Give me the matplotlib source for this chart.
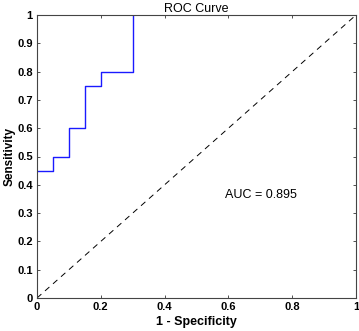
#!/usr/bin/env python3
"""ROC curve with step-shaped sensitivity vs 1 - specificity."""

import matplotlib
matplotlib.use("Agg")
import matplotlib.pyplot as plt

# ROC points (1 - specificity, sensitivity)
fpr = [0.0, 0.05, 0.05, 0.10, 0.10, 0.15, 0.15, 0.20, 0.20, 0.30, 0.30]
tpr = [0.45, 0.45, 0.50, 0.50, 0.60, 0.60, 0.75, 0.75, 0.80, 0.80, 1.00]
auc_value = 0.895

x_ticks = [0, 0.2, 0.4, 0.6, 0.8, 1]
x_tick_labels = ["0", "0.2", "0.4", "0.6", "0.8", "1"]
y_ticks = [0, 0.1, 0.2, 0.3, 0.4, 0.5, 0.6, 0.7, 0.8, 0.9, 1]
y_tick_labels = ["0", "0.1", "0.2", "0.3", "0.4", "0.5", "0.6", "0.7", "0.8", "0.9", "1"]

plt.rcParams["font.family"] = ["Liberation Sans", "DejaVu Sans"]

fig = plt.figure(figsize=(3.59, 3.31), dpi=100)
ax = fig.add_axes([37 / 359, 33 / 331, 319 / 359, 283 / 331])

ax.plot(fpr, tpr, color="#1a1aff", linewidth=1.0)
ax.plot([0, 1], [0, 1], color="black", linestyle=(0, (6, 5)), linewidth=0.7)
ax.text(0.59, 0.365, f"AUC = {auc_value}", fontsize=9, va="center", ha="left")

ax.set_xlim(0, 1)
ax.set_ylim(0, 1)
ax.set_xticks(x_ticks)
ax.set_xticklabels(x_tick_labels, fontweight="bold")
ax.set_yticks(y_ticks)
ax.set_yticklabels(y_tick_labels, fontweight="bold")
ax.tick_params(direction="in", length=2.5, width=0.6, labelsize=8,
               top=True, right=True, pad=3, colors="#333333", labelcolor="black")
for s in ax.spines.values():
    s.set_color("#444444")
    s.set_linewidth(0.8)

ax.set_title("ROC Curve", fontsize=9, pad=2)
ax.set_xlabel("1 - Specificity", fontsize=9, fontweight="bold", labelpad=3)
ax.set_ylabel("Sensitivity", fontsize=8.5, fontweight="bold", labelpad=1)

fig.savefig("out.png", dpi=100)
